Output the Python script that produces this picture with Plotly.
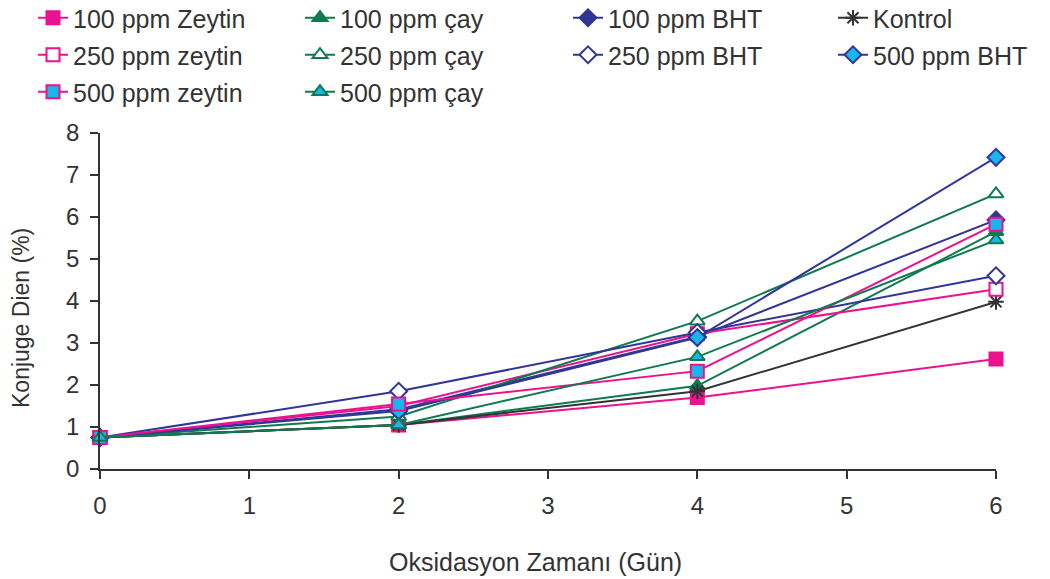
import plotly.graph_objects as go

days = [0, 2, 4, 6]

zeytin_100 = [0.75, 1.05, 1.70, 2.62]
cay_100 = [0.75, 1.05, 1.98, 5.65]
bht_100 = [0.75, 1.42, 3.15, 5.93]
kontrol = [0.75, 1.05, 1.85, 3.98]
zeytin_250 = [0.75, 1.50, 3.22, 4.28]
cay_250 = [0.75, 1.25, 3.52, 6.55]
bht_250 = [0.75, 1.85, 3.25, 4.60]
bht_500 = [0.75, 1.38, 3.13, 7.42]
zeytin_500 = [0.75, 1.55, 2.33, 5.83]
cay_500 = [0.75, 1.05, 2.67, 5.45]

x_ticks = [0, 1, 2, 3, 4, 5, 6]
y_ticks = [0, 1, 2, 3, 4, 5, 6, 7, 8]

PINK = "#EC118F"
GREEN = "#0F7A4E"
NAVY = "#313696"
GRAY = "#333333"
CYAN = "#19B6EE"
WHITE = "#FFFFFF"

# name, values, line colour, symbol, fill, legend column, legend row
series = [
    ("100 ppm Zeytin", zeytin_100, PINK, "square", PINK, 0, 0),
    ("100 ppm çay", cay_100, GREEN, "triangle-up", GREEN, 1, 0),
    ("100 ppm BHT", bht_100, NAVY, "diamond", NAVY, 2, 0),
    ("Kontrol", kontrol, GRAY, "asterisk-open", GRAY, 3, 0),
    ("250 ppm zeytin", zeytin_250, PINK, "square", WHITE, 0, 1),
    ("250 ppm çay", cay_250, GREEN, "triangle-up", WHITE, 1, 1),
    ("250 ppm BHT", bht_250, NAVY, "diamond", WHITE, 2, 1),
    ("500 ppm BHT", bht_500, NAVY, "diamond", CYAN, 3, 1),
    ("500 ppm zeytin", zeytin_500, PINK, "square", CYAN, 0, 2),
    ("500 ppm çay", cay_500, GREEN, "triangle-up", CYAN, 1, 2),
]

FONT = "Liberation Sans, Arial, sans-serif"
TXT = "#333333"

L, R, T, B = 100, 54, 133, 110
W, H = 1050, 579
PW, PH = W - L - R, H - T - B

col_px = [33, 300, 568, 833]
row_px = [18, 55, 92]

fig = go.Figure()
legends = {}
for i, (name, vals, col, sym, fill, c, r) in enumerate(series):
    lg = f"legend{i + 2}"
    fig.add_trace(go.Scatter(
        x=days, y=vals, name=name, mode="lines+markers",
        line=dict(color=col, width=2),
        marker=dict(symbol=sym, size=13, color=fill,
                    line=dict(color=col, width=2)),
        cliponaxis=False, legend=lg, showlegend=True,
    ))
    legends[lg] = dict(
        orientation="h", xanchor="left", yanchor="middle",
        x=(col_px[c] - L) / PW, y=(H - B - row_px[r]) / PH,
        font=dict(family=FONT, size=25, color=TXT),
        bgcolor="rgba(0,0,0,0)",
    )

fig.update_layout(
    width=W, height=H, showlegend=True,
    margin=dict(l=L, r=R, t=T, b=B, autoexpand=False),
    paper_bgcolor="white", plot_bgcolor="white",
    font=dict(family=FONT, size=24, color=TXT),
    xaxis=dict(range=[0, 6], tickvals=x_ticks, showgrid=False, zeroline=False,
               showline=True, linecolor=GRAY, linewidth=1.5,
               ticks="outside", ticklen=8, tickcolor=GRAY, tickwidth=1.5,
               ticklabelstandoff=6,
               tickfont=dict(family=FONT, size=24, color=TXT)),
    yaxis=dict(range=[0, 8], tickvals=y_ticks, showgrid=False, zeroline=False,
               showline=True, linecolor=GRAY, linewidth=1.5,
               ticks="outside", ticklen=8, tickcolor=GRAY, tickwidth=1.5,
               ticklabelstandoff=6,
               tickfont=dict(family=FONT, size=24, color=TXT)),
    annotations=[
        dict(text="Oksidasyon Zamanı (Gün)", xref="paper", yref="paper",
             x=(535 - L) / PW, y=(H - B - 562) / PH, xanchor="center",
             yanchor="middle", showarrow=False,
             font=dict(family=FONT, size=25, color=TXT)),
        dict(text="Konjuge Dien (%)", xref="paper", yref="paper",
             x=(21 - L) / PW, y=(H - B - 318) / PH, xanchor="center",
             yanchor="middle", showarrow=False, textangle=-90,
             font=dict(family=FONT, size=23, color=TXT)),
    ],
    **legends,
)

fig.write_html("out.html")
